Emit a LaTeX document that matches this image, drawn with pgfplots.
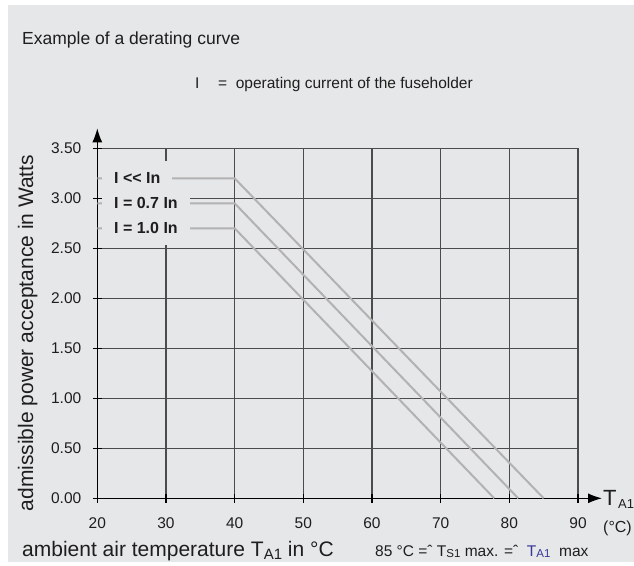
\documentclass[border=0pt]{standalone}
\usepackage{fontspec}
\setmainfont{Liberation Sans}
\usepackage{pgfplots}
\pgfplotsset{compat=1.18}
\usetikzlibrary{arrows.meta}
\definecolor{bg}{RGB}{230,231,233}
\definecolor{curve}{RGB}{178,178,178}
\definecolor{txt}{RGB}{30,30,30}
\definecolor{tblue}{RGB}{55,55,150}
\newcommand{\fs}[1]{\fontsize{#1}{#1}\selectfont}
\begin{document}
\begin{tikzpicture}[x=1pt,y=1pt]
\useasboundingbox (0,0) rectangle (634,565);
\fill[bg] (7.5,3) rectangle (634,560);

\node[anchor=base west, inner sep=0pt, text=txt, font=\fs{17.5}] at (22,520) {Example of a derating curve};
\node[anchor=base west, inner sep=0pt, text=txt, font=\fs{15.5}] at (195,476) {I};
\node[anchor=base west, inner sep=0pt, text=txt, font=\fs{15.5}] at (218,476) {=\ \ operating current of the fuseholder};

\begin{axis}[
    at={(97.3pt,66.7pt)}, anchor=south west,
    scale only axis,
    width=480.7pt, height=350pt,
    xmin=20, xmax=90, ymin=0, ymax=3.5,
    enlargelimits=false,
    axis lines=left,
    x axis line style={line width=1.2pt, -{Latex[length=14pt,width=10pt]}, shorten >=-24pt},
    y axis line style={line width=1.2pt, -{Latex[length=14pt,width=10pt]}, shorten >=-20pt},
    xtick={20,30,...,90},
    ytick={0,0.5,...,3.5},
    grid=major,
    grid style={black!70, line width=1.3pt},
    tick align=center,
    major tick length=9pt,
    tick style={black, line width=1.2pt},
    /pgf/number format/assume math mode=true,
    ticklabel style={font=\fs{15.5}, text=txt},
    yticklabel style={/pgf/number format/fixed, /pgf/number format/fixed zerofill, /pgf/number format/precision=2, xshift=-8pt},
    xticklabel style={yshift=-11pt},
]
\addplot[curve, line width=2pt] coordinates {(20,3.2)(40,3.2)(85,0)};
\addplot[curve, line width=2pt] coordinates {(20,2.95)(40,2.95)(81.3,0)};
\addplot[curve, line width=2pt] coordinates {(20,2.7)(40,2.7)(77.8,0)};
\node[anchor=west, fill=bg, inner xsep=12pt, minimum height=34pt, text=txt, font=\bfseries\fs{16}] at (axis cs:20.68,3.2) {I <{}< In};
\node[anchor=west, fill=bg, inner xsep=12pt, minimum height=34pt, text=txt, font=\bfseries\fs{16}] at (axis cs:20.68,2.95) {I = 0.7 In};
\node[anchor=west, fill=bg, inner xsep=12pt, minimum height=34pt, text=txt, font=\bfseries\fs{16}] at (axis cs:20.68,2.7) {I = 1.0 In};
\end{axis}

\node[rotate=90, anchor=base, inner sep=0pt, text=txt, font=\fs{21}] at (33,232) {admissible power acceptance in Watts};
\node[anchor=base west, inner sep=0pt, text=txt, font=\fs{21}] at (22,8.3) {ambient air temperature T\raisebox{-0.12em}{\fs{15}A1} in °C};
\node[anchor=base west, inner sep=0pt, text=txt, font=\fs{15.5}] at (375,9) {85 °C =\char"02C6\ T\raisebox{-0.1em}{\fs{11.5}S1} max. =\char"02C6\ \ \textcolor{tblue}{T\raisebox{-0.1em}{\fs{11.5}A1}}\ \ max};
\node[anchor=base west, text=txt, font=\fs{22}, inner sep=0pt] at (603,60) {T};
\node[anchor=base west, text=txt, font=\fs{13}, inner sep=0pt] at (618,57) {A1};
\node[anchor=base west, text=txt, font=\fs{16}, inner sep=0pt] at (603,33) {(°C)};
\end{tikzpicture}
\end{document}
